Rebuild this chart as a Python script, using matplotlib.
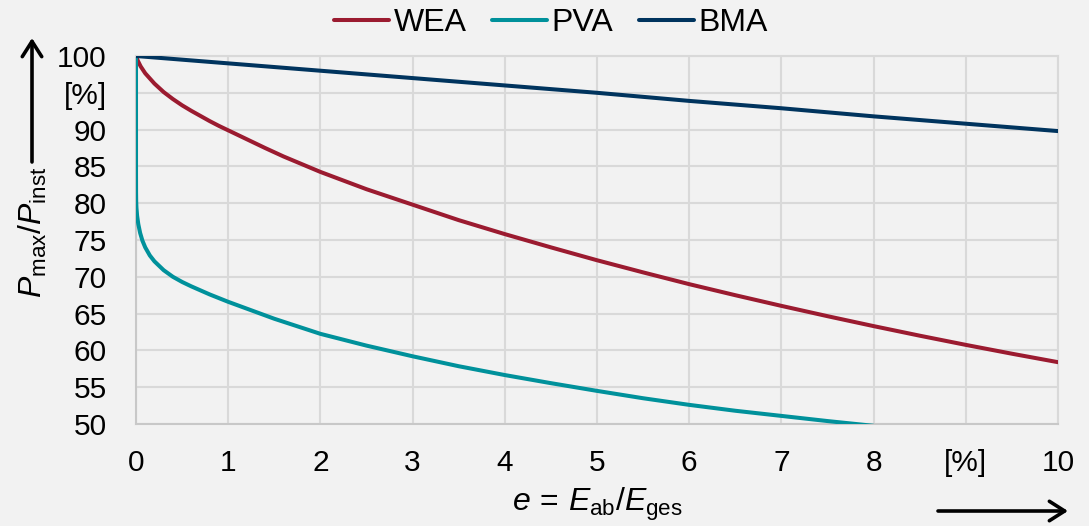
import matplotlib
matplotlib.use("Agg")
import matplotlib.pyplot as plt
from matplotlib.patches import FancyArrowPatch

# Share of energy curtailed e = E_ab/E_ges in %, and the resulting
# remaining maximum feed-in P_max/P_inst in %
wea_x = [0, 0.02, 0.05, 0.1, 0.2, 0.3, 0.4, 0.5, 0.6, 0.7, 0.8, 0.9, 1, 1.2, 1.4, 1.6,
         1.8, 2, 2.5, 3, 3.5, 4, 4.5, 5, 5.5, 6, 6.5, 7, 7.5, 8, 8.5, 9, 9.5, 10]
wea_y = [100, 99.35, 98.6, 97.65, 96.25, 95.1, 94.15, 93.3, 92.55, 91.85, 91.15, 90.5,
         89.9, 88.7, 87.5, 86.35, 85.3, 84.25, 81.9, 79.8, 77.7, 75.8, 74.0, 72.25, 70.6,
         69.0, 67.5, 66.05, 64.65, 63.3, 62.0, 60.75, 59.55, 58.4]

pva_x = [0, 0.0002, 0.0008, 0.002, 0.005, 0.012, 0.025, 0.045, 0.07, 0.1, 0.15, 0.2,
         0.3, 0.4, 0.5, 0.6, 0.7, 0.8, 1, 1.5, 2, 2.5, 3, 3.5, 4, 4.5, 5, 5.5, 6, 6.5,
         7, 7.5, 8]
pva_y = [100, 84.0, 81.5, 80.25, 79.35, 78.3, 77.15, 75.95, 74.9, 74.0, 72.9, 72.1,
         70.9, 70.0, 69.3, 68.7, 68.15, 67.6, 66.6, 64.3, 62.25, 60.65, 59.2, 57.85,
         56.65, 55.55, 54.5, 53.5, 52.6, 51.8, 51.1, 50.4, 49.75]

bma_x = [0, 1, 2, 3, 4, 5, 6, 7, 8, 9, 10]
bma_y = [100, 99.0, 98.0, 97.0, 96.0, 95.0, 93.9, 92.9, 91.8, 90.8, 89.8]

series_names = ["WEA", "PVA", "BMA"]
series_colors = ["#9b1b30", "#00919b", "#00345e"]

x_ticks = [0, 1, 2, 3, 4, 5, 6, 7, 8, 9, 10]
x_tick_labels = ["0", "1", "2", "3", "4", "5", "6", "7", "8", "[%]", "10"]
y_ticks = [50, 55, 60, 65, 70, 75, 80, 85, 90, 95, 100]
y_tick_labels = ["50", "55", "60", "65", "70", "75", "80", "85", "90", "[%]", "100"]

W, H = 1089, 526
plt.rcParams["font.family"] = ["Liberation Sans", "DejaVu Sans"]
plt.rcParams["mathtext.fontset"] = "custom"
plt.rcParams["mathtext.rm"] = "Liberation Sans"
plt.rcParams["mathtext.it"] = "Liberation Sans:italic"
plt.rcParams["mathtext.bf"] = "Liberation Sans:bold"

FS = 21.5
FS_LAB = 23
FS_LEG = 23
bg = "#f2f2f2"
grid_c = "#d9d9d9"

fig = plt.figure(figsize=(W / 100, H / 100), dpi=100, facecolor=bg)
ax = fig.add_axes([136 / W, 1 - 424 / H, (1058 - 136) / W, (424 - 56) / H])
ax.set_facecolor(bg)

for xs, ys, name, col in zip([wea_x, pva_x, bma_x], [wea_y, pva_y, bma_y],
                             series_names, series_colors):
    ax.plot(xs, ys, color=col, lw=2.9, label=name, solid_capstyle="round",
            solid_joinstyle="round", zorder=3)

ax.set_xlim(0, 10)
ax.set_ylim(50, 100)
ax.set_xticks(x_ticks)
ax.set_xticklabels(x_tick_labels)
ax.set_yticks(y_ticks)
ax.set_yticklabels(y_tick_labels)
ax.tick_params(axis="both", length=0, labelsize=FS, colors="black")
ax.tick_params(axis="y", pad=21)
ax.tick_params(axis="x", pad=18)
ax.grid(True, color=grid_c, lw=1.5, zorder=0)
ax.set_axisbelow(True)
for side in ["top", "right"]:
    ax.spines[side].set_color(grid_c)
    ax.spines[side].set_linewidth(1.5)
for side in ["left", "bottom"]:
    ax.spines[side].set_color("#c8c8c8")
    ax.spines[side].set_linewidth(1.5)

# Axis titles with arrows pointing in the direction of increase
fig.text(33 / W, 1 - 232 / H, r"$P_{\mathrm{max}}/P_{\mathrm{inst}}$",
         rotation=90, ha="center", va="center", fontsize=FS_LAB)
fig.text(597 / W, 1 - 511 / H, r"$e\,=\,E_{\mathrm{ab}}/E_{\mathrm{ges}}$",
         ha="center", va="baseline", fontsize=FS_LAB)

arrow_kw = dict(arrowstyle="->,head_length=0.55,head_width=0.35", lw=2.6,
                color="black", shrinkA=0, shrinkB=0)
fig.add_artist(FancyArrowPatch((32 / W, 1 - 162 / H), (32 / W, 1 - 38 / H),
                               transform=fig.transFigure, mutation_scale=20, **arrow_kw))
fig.add_artist(FancyArrowPatch((938 / W, 1 - 511 / H), (1068 / W, 1 - 511 / H),
                               transform=fig.transFigure, mutation_scale=20, **arrow_kw))

leg = fig.legend(loc="center", bbox_to_anchor=(551 / W, 1 - 23 / H), ncol=3,
                 frameon=False, fontsize=FS_LEG, handlelength=1.72, handletextpad=0.15,
                 columnspacing=0.8, borderpad=0, borderaxespad=0)
for line in leg.get_lines():
    line.set_linewidth(2.9)
    line.set_solid_capstyle("round")

fig.savefig("out.png", dpi=100, facecolor=bg)
